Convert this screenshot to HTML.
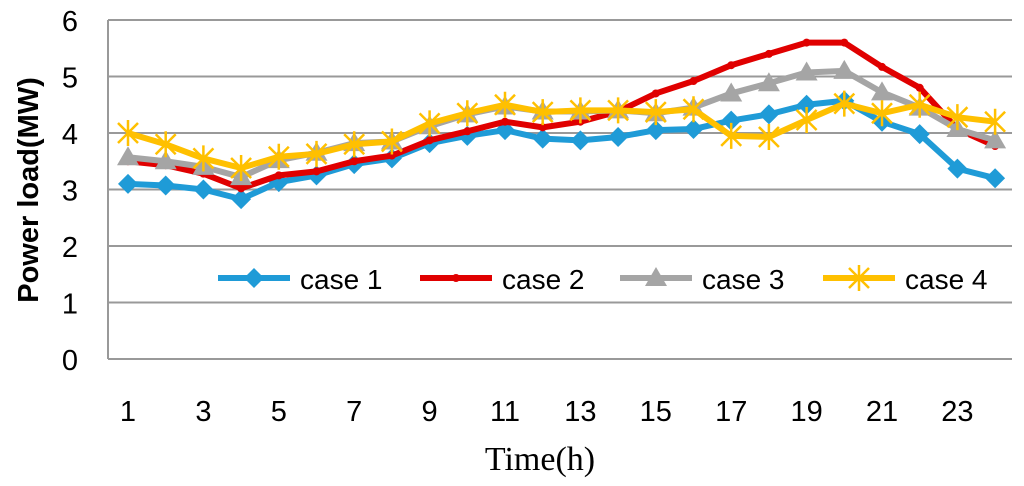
<!DOCTYPE html>
<html><head><meta charset="utf-8"><style>
body{margin:0;background:#fff;width:1024px;height:481px;overflow:hidden}
svg text{font-family:"Liberation Sans",sans-serif}
</style></head><body>
<svg id="chart" width="1024" height="481" xmlns="http://www.w3.org/2000/svg">
<g id="grid"></g><g id="axes"></g><g id="series"></g><g id="legend"></g>
<text x="0" y="0" transform="translate(38,190) rotate(-90)" text-anchor="middle" font-size="29" font-weight="bold">Power load(MW)</text>
<text x="540" y="470" text-anchor="middle" font-size="34" style="font-family:'Liberation Serif',serif">Time(h)</text>
</svg>
<script>
const hours=[1,2,3,4,5,6,7,8,9,10,11,12,13,14,15,16,17,18,19,20,21,22,23,24];
const case1=[3.1,3.07,3.0,2.83,3.13,3.25,3.45,3.55,3.82,3.95,4.05,3.9,3.87,3.93,4.05,4.07,4.22,4.33,4.5,4.57,4.2,3.98,3.37,3.2];
const case2=[3.5,3.43,3.28,3.02,3.25,3.32,3.5,3.6,3.87,4.03,4.2,4.1,4.2,4.38,4.7,4.92,5.2,5.4,5.6,5.6,5.17,4.8,4.07,3.77];
const case3=[3.57,3.5,3.4,3.22,3.52,3.65,3.82,3.85,4.12,4.33,4.47,4.38,4.38,4.4,4.35,4.45,4.7,4.88,5.07,5.1,4.72,4.45,4.07,3.87];
const case4=[4.0,3.8,3.55,3.38,3.58,3.63,3.8,3.85,4.17,4.35,4.5,4.37,4.4,4.4,4.37,4.42,3.95,3.93,4.23,4.52,4.35,4.5,4.28,4.2];
const yTicks=[0,1,2,3,4,5,6];
const xTickLabels=[1,3,5,7,9,11,13,15,17,19,21,23];
const seriesNames=["case 1","case 2","case 3","case 4"];
const NS="http://www.w3.org/2000/svg";
const X=h=>128+(h-1)*37.7, Y=v=>359-v*56.5;
function mk(tag,attrs,parent){const e=document.createElementNS(NS,tag);for(const k in attrs)e.setAttribute(k,attrs[k]);parent.appendChild(e);return e;}
const grid=document.getElementById('grid'),axes=document.getElementById('axes'),ser=document.getElementById('series'),leg=document.getElementById('legend');
yTicks.forEach(t=>{
  if(t>0){const l=mk('line',{x1:108,x2:1012,y1:Y(t),y2:Y(t),stroke:'#999','stroke-width':2},grid);
  
  }
  const tx=mk('text',{x:78,y:Y(t)+11,'text-anchor':'end','font-size':29},axes);tx.textContent=t;
  
  
});
const xa=mk('line',{x1:108,x2:1012,y1:359,y2:359,stroke:'#999','stroke-width':2},axes);


const ya=mk('line',{x1:108,x2:108,y1:20,y2:359,stroke:'#999','stroke-width':2},axes);


xTickLabels.forEach(h=>{const t=mk('text',{x:X(h),y:421,'text-anchor':'middle','font-size':29},axes);t.textContent=h;

});
const colors=['#1f9bd7','#e00000','#a5a5a5','#ffc000'];
function marker(type,x,y,c,p){
  if(type===0)return mk('polygon',{points:`${x},${y-10} ${x+10},${y} ${x},${y+10} ${x-10},${y}`,fill:c},p);
  if(type===1)return mk('circle',{cx:x,cy:y,r:4,fill:c},p);
  if(type===2)return mk('polygon',{points:`${x},${y-11} ${x+11},${y+8} ${x-11},${y+8}`,fill:c},p);
  return mk('path',{d:`M${x-10},${y-10}L${x+10},${y+10}M${x+10},${y-10}L${x-10},${y+10}M${x},${y-13}L${x},${y+13}`,stroke:c,'stroke-width':2.5},p);
}
[case1,case2,case3,case4].forEach((d,i)=>{
  const g=mk('g',{},ser);
  
  
  mk('polyline',{points:d.map((v,j)=>X(hours[j])+','+Y(v)).join(' '),fill:'none',stroke:colors[i],'stroke-width':6,'stroke-linejoin':'round'},g);
  d.forEach((v,j)=>{const m=marker(i,X(hours[j]),Y(v),colors[i],g);
  
  });
});
const lx=[218,420,620,823];
seriesNames.forEach((n,i)=>{
  const g=mk('g',{},leg);
  
  
  mk('line',{x1:lx[i],x2:lx[i]+72,y1:278,y2:278,stroke:colors[i],'stroke-width':6},g);
  marker(i,lx[i]+36,278,colors[i],g);
  const t=mk('text',{x:lx[i]+82,y:289,'font-size':28},g);t.textContent=n;
});
</script>
</body></html>
